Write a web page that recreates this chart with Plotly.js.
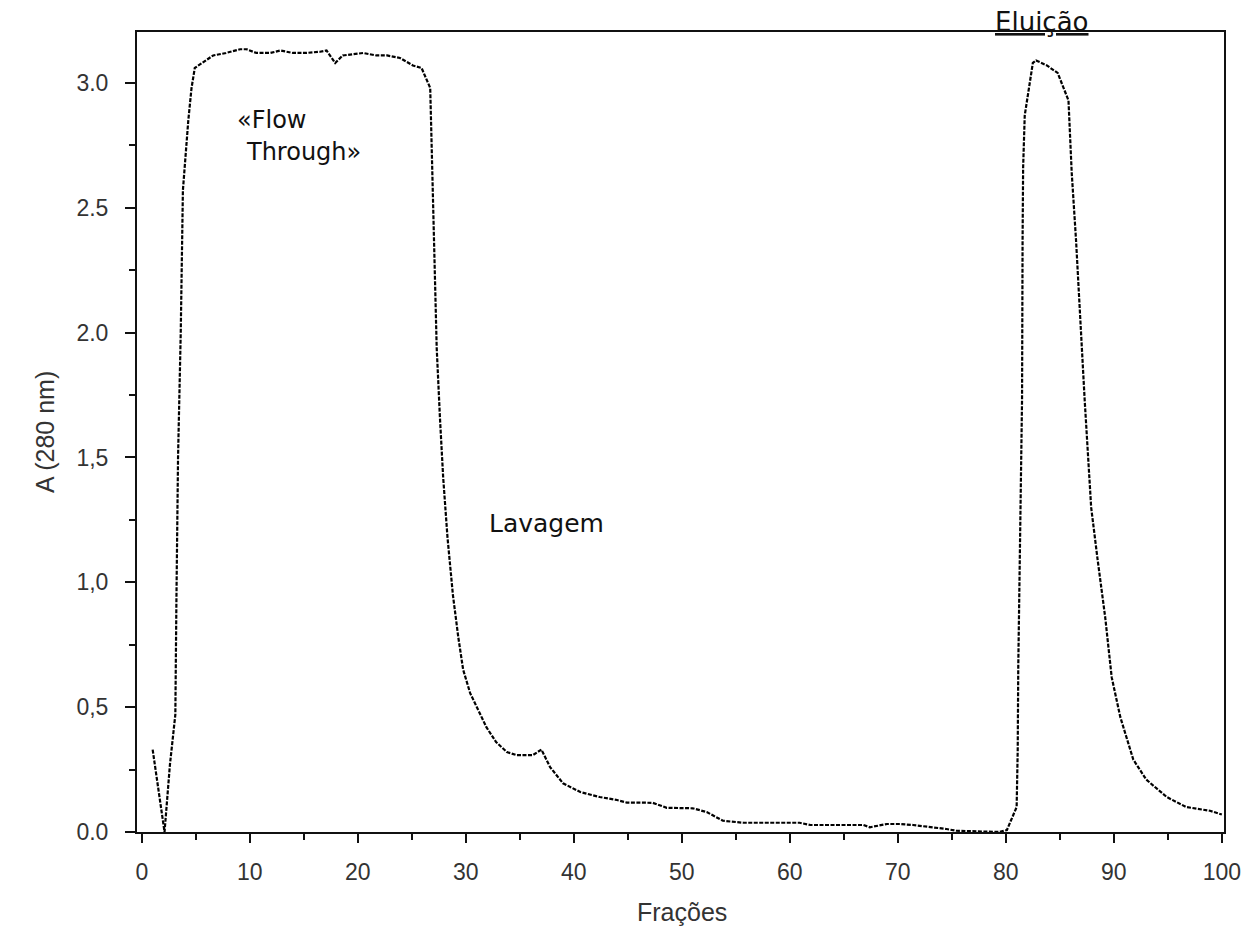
<!DOCTYPE html>
<html>
<head>
<meta charset="utf-8">
<script src="https://cdn.plot.ly/plotly-3.0.1.min.js"></script>
<style>html,body{margin:0;padding:0;background:#fff;}#chart{width:1252px;height:944px;}</style>
</head>
<body>
<div id="chart"></div>
<script>
// Fraction number (x) and absorbance at 280 nm (y)
const fractions = [1.0,1.5,2.1,2.6,3.1,3.2,3.35,3.6,3.8,4.3,4.6,4.9,5.6,6.6,7.8,9.1,9.7,10.6,11.9,12.8,14.0,15.2,16.5,17.1,17.9,18.6,20.5,21.7,22.7,23.9,25.1,25.9,26.7,26.9,27.1,27.3,27.6,27.9,28.3,28.8,29.3,29.75,30.4,31.0,31.9,32.8,33.8,34.7,36.2,37.0,37.8,39.0,40.6,42.4,44.0,44.9,47.3,48.6,51.0,52.3,53.8,55.7,60.9,61.9,66.8,67.4,69.0,70.2,71.4,74.5,75.4,79.4,80.1,81.0,81.1,81.15,81.3,81.45,81.5,81.55,81.6,81.75,82.2,82.5,82.8,83.8,84.8,85.8,86.1,86.5,87.3,87.9,88.5,89.2,89.8,90.6,91.8,93.0,94.9,96.7,98.9,100.0];
const absorbance = [0.33,0.17,0.0,0.27,0.47,0.93,1.50,2.00,2.57,2.85,2.98,3.06,3.08,3.11,3.12,3.135,3.135,3.12,3.12,3.13,3.12,3.12,3.125,3.13,3.08,3.11,3.12,3.11,3.11,3.10,3.07,3.06,2.98,2.60,2.20,1.94,1.66,1.42,1.18,0.95,0.78,0.65,0.556,0.50,0.42,0.36,0.32,0.308,0.308,0.33,0.26,0.195,0.16,0.14,0.128,0.118,0.117,0.097,0.095,0.08,0.045,0.037,0.037,0.028,0.028,0.019,0.032,0.032,0.028,0.012,0.005,0.0,0.008,0.10,0.33,0.66,1.06,1.46,1.73,2.37,2.66,2.87,3.00,3.08,3.09,3.07,3.04,2.93,2.64,2.37,1.73,1.30,1.09,0.86,0.62,0.46,0.29,0.21,0.14,0.10,0.085,0.07];

const xTickVals = [0,10,20,30,40,50,60,70,80,90,100];
const xTickText = ["0","10","20","30","40","50","60","70","80","90","100"];
const yTickVals = [0,0.5,1.0,1.5,2.0,2.5,3.0];
const yTickText = ["0.0","0,5","1,0","1,5","2.0","2.5","3.0"];

const xTitle = "Frações";
const yTitle = "A (280 nm)";
const labelFlow1 = "«Flow";
const labelFlow2 = "Through»";
const labelWash = "Lavagem";
const labelElution = "<u>Eluição</u>";

const tickFont = {family: "Liberation Sans, Arial, sans-serif", size: 23, color: "#333"};
const textFont = {family: "DejaVu Sans, sans-serif", size: 24, color: "#111"};

const trace = {
  x: fractions, y: absorbance, type: "scatter", mode: "lines",
  line: {color: "#000", width: 2.2, dash: "4px,1.5px"},
  hoverinfo: "skip", showlegend: false
};

const layout = {
  width: 1252, height: 944,
  margin: {l: 137, r: 28, t: 32, b: 112},
  paper_bgcolor: "#fff", plot_bgcolor: "#fff",
  showlegend: false,
  xaxis: {
    range: [-0.45, 100.2], tickmode: "array", tickvals: xTickVals, ticktext: xTickText,
    ticks: "outside", ticklen: 9, tickwidth: 2, tickcolor: "#111",
    minor: {dtick: 5, tick0: 0, ticks: "outside", ticklen: 6, tickwidth: 2, tickcolor: "#111"},
    showline: true, mirror: true, linewidth: 2, linecolor: "#111",
    showgrid: false, zeroline: false, tickfont: tickFont, ticklabelstandoff: 9
  },
  yaxis: {
    range: [0, 3.204], tickmode: "array", tickvals: yTickVals, ticktext: yTickText,
    ticks: "outside", ticklen: 10, tickwidth: 2, tickcolor: "#111",
    minor: {dtick: 0.25, tick0: 0, ticks: "outside", ticklen: 6, tickwidth: 2, tickcolor: "#111"},
    showline: true, mirror: true, linewidth: 2, linecolor: "#111",
    showgrid: false, zeroline: false, tickfont: tickFont, ticklabelstandoff: 12
  },
  annotations: [
    {text: xTitle, xref: "paper", yref: "paper", x: 0.501, y: -0.1, xanchor: "center", yanchor: "middle", showarrow: false, font: {family: "Liberation Sans, Arial, sans-serif", size: 25, color: "#333"}},
    {text: yTitle, xref: "paper", yref: "paper", x: -0.0846, y: 0.5, xanchor: "center", yanchor: "middle", textangle: -90, showarrow: false, font: {family: "Liberation Sans, Arial, sans-serif", size: 25, color: "#333"}},
    {text: labelFlow1, xref: "x", yref: "y", x: 8.6, y: 2.851, xanchor: "left", yanchor: "middle", showarrow: false, font: textFont},
    {text: labelFlow2, xref: "x", yref: "y", x: 9.5, y: 2.723, xanchor: "left", yanchor: "middle", showarrow: false, font: textFont},
    {text: labelWash, xref: "x", yref: "y", x: 32.0, y: 1.237, xanchor: "left", yanchor: "middle", showarrow: false, font: {family: "DejaVu Sans, sans-serif", size: 25, color: "#111"}},
    {text: labelElution, xref: "paper", yref: "paper", x: (993 - 137) / 1087, y: 1.013, xanchor: "left", yanchor: "middle", showarrow: false, font: {family: "DejaVu Sans, sans-serif", size: 26, color: "#111"}}
  ]
};

Plotly.newPlot("chart", [trace], layout, {staticPlot: true, displayModeBar: false});
</script>
</body>
</html>
